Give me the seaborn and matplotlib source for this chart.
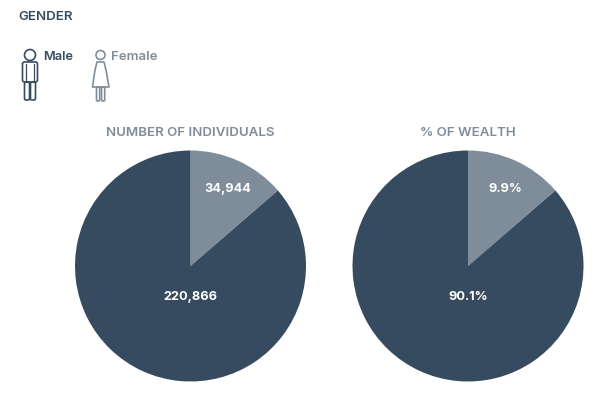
import matplotlib
matplotlib.use('Agg')
import matplotlib.pyplot as plt
from matplotlib.patches import Circle, FancyBboxPatch, Polygon
import seaborn as sns

# data
genders = ['Female', 'Male']
individuals = [34944, 220866]
individual_labels = ['34,944', '220,866']
# the wealth pie is drawn with the same slice angle as the left one in the original,
# even though its labels say 9.9 / 90.1
wealth_slices = [13.66, 86.34]
wealth_labels = ['9.9%', '90.1%']
titles = ['NUMBER OF INDIVIDUALS', '% OF WEALTH']

DARK = '#374b60'
LIGHT = '#7f8d9b'
W, H = 606, 394

sns.set_theme(style='white')
plt.rcParams['font.family'] = ['Inter', 'DejaVu Sans']
palette = sns.color_palette([LIGHT, DARK])

fig = plt.figure(figsize=(W / 100, H / 100), dpi=100)

# full figure overlay in pixel coordinates, for the header and the icons
bg = fig.add_axes([0, 0, 1, 1])
bg.set_xlim(0, W)
bg.set_ylim(H, 0)
bg.axis('off')


def draw_pie(cx, cy, r, values, labels, title):
    ax = fig.add_axes([(cx - r) / W, 1 - (cy + r) / H, 2 * r / W, 2 * r / H])
    ax.pie(values, colors=palette, startangle=90, counterclock=False, radius=1,
           wedgeprops={'linewidth': 0})
    ax.set_xlim(-1, 1)
    ax.set_ylim(-1, 1)
    ax.text(0.32, 0.67, labels[0], color='white', fontsize=9.2, fontweight='bold',
            ha='center', va='center')
    ax.text(0, -0.27, labels[1], color='white', fontsize=9.2, fontweight='bold',
            ha='center', va='center')
    bg.text(cx, 133, title, color=LIGHT, fontsize=9.6, fontweight='semibold',
            ha='center', va='center')


draw_pie(190.5, 266, 115.5, individuals, individual_labels, titles[0])
draw_pie(468, 266, 115.5, wealth_slices, wealth_labels, titles[1])

bg.text(18.5, 17, 'GENDER', color=DARK, fontsize=9.6, fontweight='semibold', ha='left', va='center')
bg.text(43, 56.5, genders[1], color=DARK, fontsize=9.2, fontweight='semibold', ha='left', va='center')
bg.text(111, 56.5, genders[0], color=LIGHT, fontsize=9.5, fontweight='semibold', ha='left', va='center')


def outline(patch):
    patch.set_fill(False)
    bg.add_patch(patch)


# male icon
lw = 1.2
outline(Circle((30, 55), 5.5, ec=DARK, lw=lw))
outline(FancyBboxPatch((22.5, 62), 15, 20, boxstyle='round,pad=0,rounding_size=2', ec=DARK, lw=lw))
bg.plot([26, 26], [64, 82], color=DARK, lw=0.9)
bg.plot([34, 34], [64, 82], color=DARK, lw=0.9)
outline(FancyBboxPatch((24.5, 82), 5, 18, boxstyle='round,pad=0,rounding_size=1.5', ec=DARK, lw=lw))
outline(FancyBboxPatch((30.5, 82), 5, 18, boxstyle='round,pad=0,rounding_size=1.5', ec=DARK, lw=lw))

# female icon
outline(Circle((100.5, 55), 4.5, ec=LIGHT, lw=lw))
outline(Polygon([(97, 62), (104, 62), (106, 70), (109, 87), (92.5, 87), (95, 70)],
                closed=True, ec=LIGHT, lw=lw, joinstyle='round'))
outline(FancyBboxPatch((96.5, 87), 3.2, 14, boxstyle='round,pad=0,rounding_size=1.2', ec=LIGHT, lw=lw))
outline(FancyBboxPatch((101.5, 87), 3.2, 14, boxstyle='round,pad=0,rounding_size=1.2', ec=LIGHT, lw=lw))

fig.savefig('out.png', dpi=100)
